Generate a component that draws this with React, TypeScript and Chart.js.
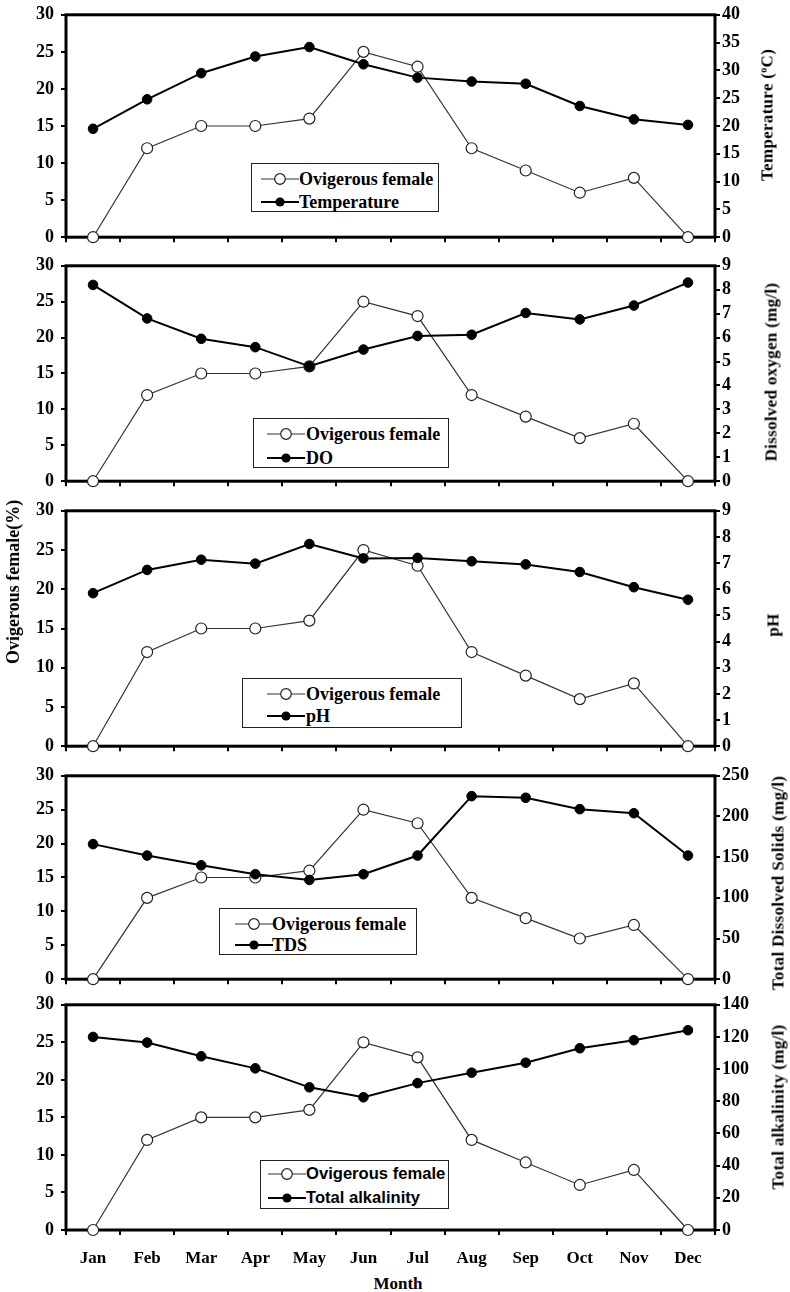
import React, { useEffect, useRef } from "react";
import { Chart, registerables } from "chart.js";

Chart.register(...registerables);

// ---------- data ----------
const months = ["Jan", "Feb", "Mar", "Apr", "May", "Jun", "Jul", "Aug", "Sep", "Oct", "Nov", "Dec"];
const ovigerousFemale = [0, 12, 15, 15, 16, 25, 23, 12, 9, 6, 8, 0];
const temperature = [19.5, 24.8, 29.5, 32.5, 34.2, 31.1, 28.7, 28.0, 27.6, 23.6, 21.2, 20.2];
const dissolvedOxygen = [8.2, 6.8, 5.95, 5.6, 4.8, 5.5, 6.07, 6.12, 7.03, 6.76, 7.34, 8.3];
const pHValues = [5.85, 6.74, 7.13, 6.98, 7.73, 7.18, 7.2, 7.07, 6.95, 6.66, 6.08, 5.6];
const tdsValues = [166, 152, 140, 129, 122, 129, 152, 225, 223, 209, 204, 152];
const totalAlkalinity = [120, 116.5, 108, 100.5, 88.7, 82.5, 91.3, 97.8, 104, 113, 118, 124.2];

const leftTicksMax = 30;
const leftTicksStep = 5;

// ---------- styling ----------
const SERIF = "'Liberation Serif', 'Times New Roman', serif";
const SANS = "'Liberation Sans', Arial, sans-serif";
const W = 790;
const PLOT_LEFT = 66;
const PLOT_RIGHT = 715;
const PAD_TOP = 12;

type PanelCfg = {
  key: string;
  top: number;
  bottom: number;
  bottomExtra: number;
  showX: boolean;
  seriesLabel: string;
  values: number[];
  rMax: number;
  rStep: number;
  title: React.ReactNode;
  titleX: number;
  titleY: number;
  legend: { x: number; y: number; w: number; h: number; sym: number; text: number; r1: number; r2: number; font: string; size: number };
};

const panels: PanelCfg[] = [
  {
    key: "temp", top: 9, bottom: 247, bottomExtra: 8, showX: false,
    seriesLabel: "Temperature", values: temperature, rMax: 40, rStep: 5,
    title: <span>Temperature (<sup style={{ fontSize: "10px", verticalAlign: "6px" }}>o</sup>C)</span>,
    titleX: 767, titleY: 115,
    legend: { x: 251, y: 163, w: 188, h: 49, sym: 9, text: 47, r1: 15, r2: 38, font: SERIF, size: 18 },
  },
  {
    key: "do", top: 260, bottom: 491, bottomExtra: 8, showX: false,
    seriesLabel: "DO", values: dissolvedOxygen, rMax: 9, rStep: 1,
    title: <span>Dissolved oxygen (mg/l)</span>,
    titleX: 771, titleY: 372,
    legend: { x: 253, y: 418, w: 196, h: 50, sym: 13, text: 52, r1: 15, r2: 39, font: SERIF, size: 18 },
  },
  {
    key: "ph", top: 505, bottom: 756, bottomExtra: 8, showX: false,
    seriesLabel: "pH", values: pHValues, rMax: 9, rStep: 1,
    title: <span>pH</span>,
    titleX: 773, titleY: 625,
    legend: { x: 242, y: 678, w: 220, h: 50, sym: 24, text: 63, r1: 15, r2: 37, font: SERIF, size: 18 },
  },
  {
    key: "tds", top: 770, bottom: 989, bottomExtra: 8, showX: false,
    seriesLabel: "TDS", values: tdsValues, rMax: 250, rStep: 50,
    title: <span>Total Dissolved Solids (mg/l)</span>,
    titleX: 778, titleY: 883,
    legend: { x: 219, y: 908, w: 198, h: 47, sym: 15, text: 52, r1: 15, r2: 36, font: SERIF, size: 18 },
  },
  {
    key: "alk", top: 999, bottom: 1230, bottomExtra: 42, showX: true,
    seriesLabel: "Total alkalinity", values: totalAlkalinity, rMax: 140, rStep: 20,
    title: <span>Total alkalinity (mg/l)</span>,
    titleX: 778, titleY: 1107,
    legend: { x: 260, y: 1160, w: 189, h: 49, sym: 7, text: 45, r1: 13, r2: 37, font: SANS, size: 16.6 },
  },
];

const framePlugin = {
  id: "frame",
  beforeDatasetsDraw(chart: any) {
    const { ctx, chartArea: a } = chart;
    ctx.save();
    ctx.strokeStyle = "#000";
    ctx.lineWidth = 3;
    ctx.strokeRect(a.left, a.top, a.right - a.left, a.bottom - a.top);
    ctx.restore();
  },
};

function Panel({ cfg }: { cfg: PanelCfg }) {
  const ref = useRef<HTMLCanvasElement>(null);
  const height = cfg.bottom - cfg.top + PAD_TOP + cfg.bottomExtra;

  useEffect(() => {
    if (!ref.current) return;
    const tickFont = { family: SERIF, size: 18, weight: "bold" as const };
    const chart = new Chart(ref.current, {
      type: "line",
      data: {
        labels: months,
        datasets: [
          {
            label: cfg.seriesLabel,
            data: cfg.values,
            yAxisID: "yR",
            borderColor: "#000",
            borderWidth: 2,
            pointRadius: 4.8,
            pointBackgroundColor: "#000",
            pointBorderColor: "#000",
            pointBorderWidth: 1,
            tension: 0,
            clip: false as any,
            order: 0,
          },
          {
            label: "Ovigerous female",
            data: ovigerousFemale,
            yAxisID: "yL",
            borderColor: "#333",
            borderWidth: 1.2,
            pointRadius: 5.5,
            pointBackgroundColor: "#fff",
            pointBorderColor: "#222",
            pointBorderWidth: 1.2,
            tension: 0,
            clip: false as any,
            order: 1,
          },
        ],
      },
      options: {
        animation: false,
        responsive: false,
        maintainAspectRatio: false,
        devicePixelRatio: 1,
        events: [],
        layout: { padding: { top: PAD_TOP, left: 0, right: 0, bottom: 0 } },
        plugins: { legend: { display: false }, tooltip: { enabled: false }, title: { display: false } },
        scales: {
          x: {
            type: "category",
            offset: true,
            grid: { offset: true, drawOnChartArea: false, drawTicks: true, tickLength: 5, lineWidth: 2, color: "#000" },
            border: { display: false },
            ticks: {
              display: cfg.showX,
              font: { family: SERIF, size: 17, weight: "bold" },
              color: "#000",
              padding: 13,
              maxRotation: 0,
              autoSkip: false,
            },
            afterFit: (s: any) => {
              s.height = cfg.bottomExtra;
            },
          },
          yL: {
            type: "linear",
            position: "left",
            min: 0,
            max: leftTicksMax,
            ticks: { stepSize: leftTicksStep, font: tickFont, color: "#000", padding: 7, autoSkip: false },
            grid: { drawOnChartArea: false, drawTicks: true, tickLength: 5, lineWidth: 2, color: "#000" },
            border: { display: false },
            afterFit: (s: any) => {
              s.width = PLOT_LEFT;
            },
          },
          yR: {
            type: "linear",
            position: "right",
            min: 0,
            max: cfg.rMax,
            ticks: { stepSize: cfg.rStep, font: tickFont, color: "#000", padding: 2, autoSkip: false },
            grid: { drawOnChartArea: false, drawTicks: true, tickLength: 5, lineWidth: 2, color: "#000" },
            border: { display: false },
            afterFit: (s: any) => {
              s.width = W - PLOT_RIGHT;
            },
          },
        },
      } as any,
      plugins: [framePlugin],
    });
    return () => chart.destroy();
  }, []);

  const lg = cfg.legend;
  const symW = 38;
  const symbol = (filled: boolean) => (
    <svg width={symW} height={14} style={{ position: "absolute", left: lg.sym, top: -7 }}>
      <line x1={0} y1={7} x2={symW} y2={7} stroke={filled ? "#000" : "#333"} strokeWidth={filled ? 2 : 1.2} />
      {filled ? (
        <circle cx={symW / 2} cy={7} r={4.6} fill="#000" />
      ) : (
        <circle cx={symW / 2} cy={7} r={5.3} fill="#fff" stroke="#222" strokeWidth={1.2} />
      )}
    </svg>
  );
  const textStyle = (row: number): React.CSSProperties => ({
    position: "absolute",
    left: lg.text,
    top: row,
    transform: "translateY(-50%)",
    fontFamily: lg.font,
    fontWeight: "bold",
    fontSize: lg.size,
    lineHeight: 1,
    whiteSpace: "nowrap",
    color: "#000",
  });

  return (
    <>
      <canvas
        ref={ref}
        width={W}
        height={height}
        style={{ position: "absolute", left: 0, top: cfg.top - PAD_TOP, width: W, height }}
      />
      <div
        style={{
          position: "absolute",
          left: lg.x,
          top: lg.y,
          width: lg.w,
          height: lg.h,
          boxSizing: "border-box",
          border: "1.5px solid #222",
          background: "#fff",
        }}
      >
        <div style={{ position: "absolute", left: 0, top: lg.r1 }}>{symbol(false)}</div>
        <div style={textStyle(lg.r1)}>Ovigerous female</div>
        <div style={{ position: "absolute", left: 0, top: lg.r2 }}>{symbol(true)}</div>
        <div style={textStyle(lg.r2)}>{cfg.seriesLabel}</div>
      </div>
      <div
        style={{
          position: "absolute",
          left: cfg.titleX,
          top: cfg.titleY,
          transform: "translate(-50%, -50%) rotate(-90deg)",
          fontFamily: SERIF,
          fontWeight: "bold",
          fontSize: 17,
          letterSpacing: "0.3px",
          whiteSpace: "nowrap",
          lineHeight: 1,
          color: "#000",
        }}
      >
        {cfg.title}
      </div>
    </>
  );
}

export default function App() {
  return (
    <div style={{ position: "absolute", left: 0, top: 0, width: W, height: 1292, background: "#fff", overflow: "hidden" }}>
      {panels.map((p) => (
        <Panel key={p.key} cfg={p} />
      ))}
      <div
        style={{
          position: "absolute",
          left: 13,
          top: 582,
          transform: "translate(-50%, -50%) rotate(-90deg)",
          fontFamily: SERIF,
          fontWeight: "bold",
          fontSize: 18,
          whiteSpace: "nowrap",
          lineHeight: 1,
          color: "#000",
        }}
      >
        Ovigerous female(%)
      </div>
      <div
        style={{
          position: "absolute",
          left: 398,
          top: 1283,
          transform: "translate(-50%, -50%)",
          fontFamily: SERIF,
          fontWeight: "bold",
          fontSize: 17,
          whiteSpace: "nowrap",
          lineHeight: 1,
          color: "#000",
        }}
      >
        Month
      </div>
    </div>
  );
}
